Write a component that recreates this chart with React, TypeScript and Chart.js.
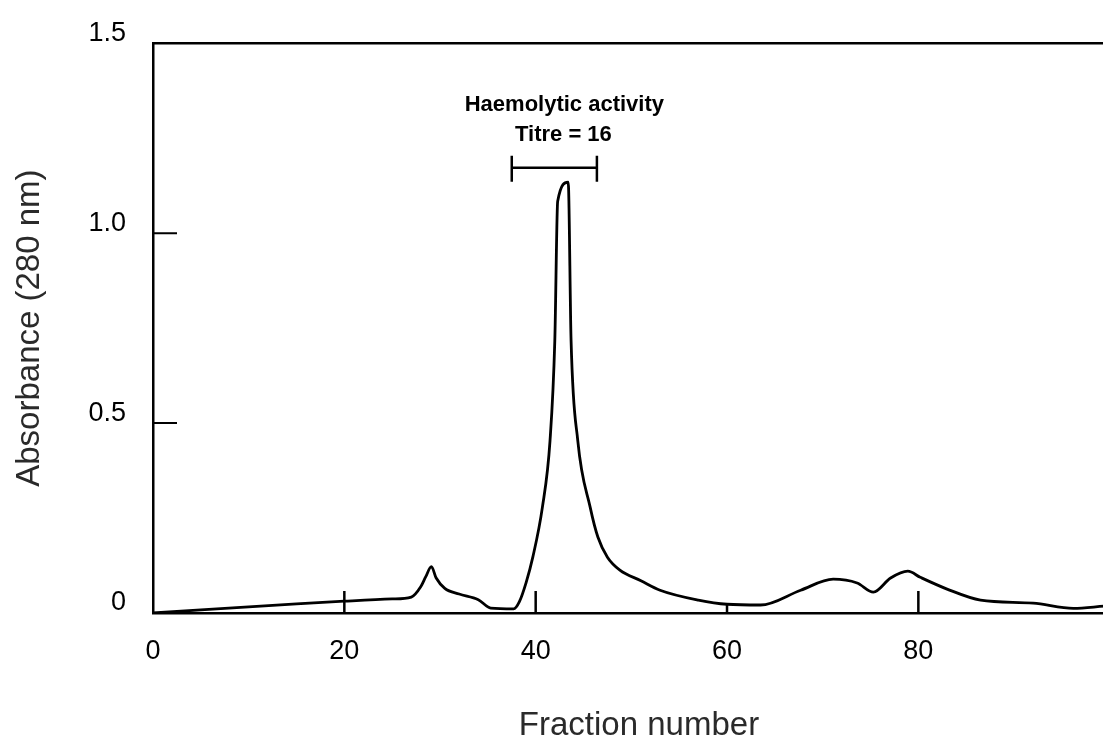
import React, { useEffect, useRef } from 'react';
import { Chart, registerables } from 'chart.js';

Chart.register(...registerables);

// Elution profile (absorbance at 280 nm) per fraction number
const fractions = [
  0, 5, 10, 15, 20, 25, 27, 28, 28.5, 29.1, 29.6, 30.5, 32, 34, 35.3, 37.7, 38.3, 39.0,
  39.7, 40.7, 41.5, 42.0, 42.3, 43.4, 43.7, 44.4, 45.7, 46.5, 47.5, 48.8, 51, 53, 57, 60,
  63.5, 67.7, 71.1, 73.6, 75.3, 77.1, 78.9, 80.2, 83, 86.5, 92, 96.2, 99.4,
];
const absorbance = [
  0, 0.008, 0.016, 0.024, 0.031, 0.037, 0.042, 0.07, 0.095, 0.122, 0.092, 0.065, 0.05,
  0.035, 0.013, 0.011, 0.03, 0.08, 0.147, 0.278, 0.454, 0.717, 1.084, 1.134, 0.717, 0.454,
  0.278, 0.2, 0.147, 0.113, 0.085, 0.06, 0.034, 0.023, 0.021, 0.06, 0.089, 0.079, 0.055,
  0.092, 0.11, 0.094, 0.063, 0.034, 0.026, 0.012, 0.018,
];

const xTicks = [0, 20, 40, 60, 80];
const yTicks = [0, 0.5, 1.0, 1.5];
const yMarks = [0.5, 1.0];
const xMarks = [20, 40, 60, 80];

// Haemolytic activity bracket (fraction range) and its label
const activityRange = [37.5, 46.4];
const activityLevel = 1.172;
const activityLabel = ['Haemolytic activity', 'Titre = 16'];

const FONT = '"Liberation Sans", Arial, Helvetica, sans-serif';

const overlay = {
  id: 'overlay',
  afterDatasetsDraw(chart: any) {
    const { ctx, chartArea, scales } = chart;
    const x = scales.x;
    const y = scales.y;
    ctx.save();
    ctx.strokeStyle = '#000';
    ctx.lineCap = 'butt';
    // top frame line
    ctx.lineWidth = 2.5;
    ctx.beginPath();
    ctx.moveTo(chartArea.left - 1, chartArea.top);
    ctx.lineTo(chartArea.right, chartArea.top);
    ctx.stroke();
    // inward y tick marks
    ctx.lineWidth = 2;
    ctx.beginPath();
    yMarks.forEach((v) => {
      const py = y.getPixelForValue(v);
      ctx.moveTo(chartArea.left, py);
      ctx.lineTo(chartArea.left + 24, py);
    });
    ctx.stroke();
    // inward x tick marks
    ctx.lineWidth = 2.5;
    ctx.beginPath();
    xMarks.forEach((v, i) => {
      const px = x.getPixelForValue(v);
      const len = i === 2 ? 8 : 22;
      ctx.moveTo(px, chartArea.bottom);
      ctx.lineTo(px, chartArea.bottom - len);
    });
    ctx.stroke();
    // bracket
    const x0 = x.getPixelForValue(activityRange[0]);
    const x1 = x.getPixelForValue(activityRange[1]);
    const py = y.getPixelForValue(activityLevel);
    ctx.lineWidth = 2.5;
    ctx.beginPath();
    ctx.moveTo(x0, py);
    ctx.lineTo(x1, py);
    ctx.moveTo(x0, py - 12);
    ctx.lineTo(x0, py + 14);
    ctx.moveTo(x1, py - 12);
    ctx.lineTo(x1, py + 14);
    ctx.stroke();
    // label
    ctx.fillStyle = '#000';
    ctx.textAlign = 'center';
    ctx.textBaseline = 'middle';
    ctx.font = `bold 22px ${FONT}`;
    ctx.fillText(activityLabel[0], x.getPixelForValue(43.0), y.getPixelForValue(1.337));
    ctx.fillText(activityLabel[1], x.getPixelForValue(42.9), y.getPixelForValue(1.259));
    ctx.restore();
  },
};

export default function App() {
  const ref = useRef<HTMLCanvasElement | null>(null);

  useEffect(() => {
    if (!ref.current) return;
    const chart = new Chart(ref.current, {
      type: 'line',
      data: {
        datasets: [
          {
            data: fractions.map((f, i) => ({ x: f, y: absorbance[i] })),
            borderColor: '#000',
            borderWidth: 2.8,
            pointRadius: 0,
            fill: false,
            tension: 0,
            cubicInterpolationMode: 'monotone',
          },
        ],
      },
      options: {
        animation: false,
        responsive: false,
        events: [],
        layout: { padding: { top: 40, right: 0, left: 0, bottom: 0 } },
        plugins: {
          legend: { display: false },
          tooltip: { enabled: false },
        },
        scales: {
          x: {
            type: 'linear',
            min: 0,
            max: 101.6,
            afterBuildTicks: (s: any) => {
              s.ticks = xTicks.map((v) => ({ value: v }));
            },
            afterFit: (s: any) => {
              s.height = 125;
            },
            grid: { display: false, drawTicks: false },
            border: { display: true, color: '#000', width: 2.5 },
            ticks: {
              padding: 22,
              color: '#000',
              font: { family: FONT, size: 27 },
              maxRotation: 0,
              callback: (v: any) => String(v),
            },
            title: {
              display: true,
              text: 'Fraction number',
              color: '#2a2a2a',
              font: { family: FONT, size: 33, lineHeight: 1 },
              padding: { top: 0, bottom: -4 },
            },
          },
          y: {
            type: 'linear',
            min: 0,
            max: 1.5,
            afterBuildTicks: (s: any) => {
              s.ticks = yTicks.map((v) => ({ value: v }));
            },
            afterFit: (s: any) => {
              s.width = 153;
            },
            grid: { display: false, drawTicks: false },
            border: { display: true, color: '#000', width: 2.5 },
            ticks: {
              padding: 27,
              labelOffset: -10,
              color: '#000',
              font: { family: FONT, size: 27 },
              callback: (v: any) => (Number(v) === 0 ? '0' : Number(v).toFixed(1)),
            },
            title: {
              display: true,
              text: 'Absorbance (280 nm)',
              color: '#2a2a2a',
              font: { family: FONT, size: 33, lineHeight: 1 },
              padding: { top: 13.5, bottom: 0 },
            },
          },
        },
      },
      plugins: [overlay],
    });
    return () => chart.destroy();
  }, []);

  return (
    <div
      style={{
        position: 'absolute',
        left: 0,
        top: 0,
        width: 1103,
        height: 738,
        overflow: 'hidden',
        background: '#fff',
      }}
    >
      <canvas ref={ref} width={1125} height={738} style={{ display: 'block' }} />
    </div>
  );
}
